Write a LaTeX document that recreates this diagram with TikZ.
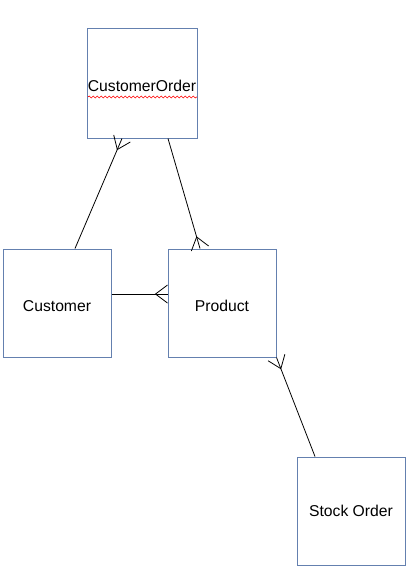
\documentclass[tikz,border=0pt]{standalone}
\usepackage{fontspec}
\setmainfont{Liberation Sans}
\usetikzlibrary{calc, positioning, decorations.pathmorphing}
\definecolor{boxline}{RGB}{100,128,175}

% crow's foot at the box end #2 of a line coming from #1
\newcommand{\crowfoot}[2]{%
    \draw ($(#2)!9pt!90:(#1)$) -- ($(#2)!12pt!(#1)$) -- ($(#2)!9pt!-90:(#1)$);}

\begin{document}
\begin{tikzpicture}[x=1pt, y=-1pt, line width=0.8pt,
    entity/.style={draw=boxline, line width=1pt, minimum width=108pt, minimum height=108pt,
        inner sep=0pt, text height=17pt, text depth=0pt, font=\fontsize{15.7}{18}\selectfont}]

    \useasboundingbox (0,0) rectangle (418,576);

    % entities
    \node[entity, minimum width=110pt, minimum height=110pt] (custorder) at (142,83) {CustomerOrder};
    \node[entity] (customer) at (57,303) {Customer};
    \node[entity] (product) at (222,303) {Product};
    \node[entity, text height=11pt] (stockorder) at (351,511) {Stock Order};

    % spell check underline
    \draw[red, line width=0.6pt, decorate, decoration={snake, amplitude=1pt, segment length=4pt}]
        (88,97) -- (197,97);

    % line ends
    \coordinate (co1) at ([xshift=-20pt]custorder.south);
    \coordinate (co2) at ([xshift=26pt]custorder.south);
    \coordinate (cu1) at ([xshift=18pt]customer.north);
    \coordinate (cu2) at ([yshift=9pt]customer.east);
    \coordinate (pr1) at ([xshift=-22pt]product.north);
    \coordinate (pr2) at ([yshift=9pt]product.west);
    \coordinate (pr3) at (product.south east);
    \coordinate (so1) at ([xshift=-36pt]stockorder.north);

    % relationships
    \draw (cu1) -- (co1);
    \crowfoot{cu1}{co1}
    \draw (co2) -- (pr1);
    \crowfoot{co2}{pr1}
    \draw (cu2) -- (pr2);
    \crowfoot{cu2}{pr2}
    \draw (so1) -- (pr3);
    \crowfoot{so1}{pr3}

\end{tikzpicture}
\end{document}
